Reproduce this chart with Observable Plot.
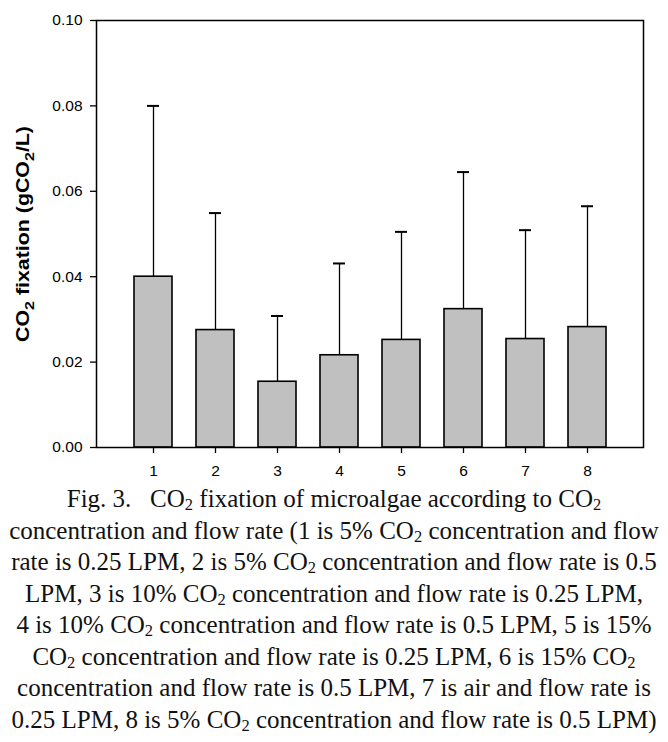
<!DOCTYPE html>
<html>
<head>
<meta charset="utf-8">
<script src="https://cdn.jsdelivr.net/npm/d3@7"></script>
<script src="https://cdn.jsdelivr.net/npm/@observablehq/plot@0.6"></script>
<style>
  body { margin: 0; background: #fff; }
  #caption { font-family: "Liberation Serif", "Times New Roman", serif; font-size: 25px; line-height: 31.5px; color: #111; text-align: center; width: 668px; }
  #caption div { white-space: nowrap; }
  .sub { font-size: 0.66em; vertical-align: -0.18em; line-height: 0; }
</style>
</head>
<body>
<div id="chart"></div>
<div id="caption"></div>
<script>
const categories = ["1", "2", "3", "4", "5", "6", "7", "8"];
const means  = [0.0400, 0.0275, 0.0154, 0.0216, 0.0252, 0.0324, 0.0254, 0.0282];
const errors = [0.0400, 0.0274, 0.0154, 0.0215, 0.0253, 0.0321, 0.0255, 0.0283];
const yTicks = [0, 0.02, 0.04, 0.06, 0.08, 0.10];
const yLabelParts = [["CO", false], ["2", true], [" fixation (gCO", false], ["2", true], ["/L)", false]];
const captionLines = [
  "Fig. 3.&nbsp;&nbsp; CO<span class='sub'>2</span> fixation of microalgae according to CO<span class='sub'>2</span>",
  "concentration and flow rate (1 is 5% CO<span class='sub'>2</span> concentration and flow",
  "rate is 0.25 LPM, 2 is 5% CO<span class='sub'>2</span> concentration and flow rate is 0.5",
  "LPM, 3 is 10% CO<span class='sub'>2</span> concentration and flow rate is 0.25 LPM,",
  "4 is 10% CO<span class='sub'>2</span> concentration and flow rate is 0.5 LPM, 5 is 15%",
  "CO<span class='sub'>2</span> concentration and flow rate is 0.25 LPM, 6 is 15% CO<span class='sub'>2</span>",
  "concentration and flow rate is 0.5 LPM, 7 is air and flow rate is",
  "0.25 LPM, 8 is 5% CO<span class='sub'>2</span> concentration and flow rate is 0.5 LPM)"
];

const data = categories.map((c, i) => ({cat: c, mean: means[i], err: errors[i]}));

const chart = Plot.plot({
  width: 668,
  height: 483,
  marginLeft: 96,
  marginRight: 25,
  marginTop: 20,
  marginBottom: 36,
  style: {fontFamily: "'Liberation Sans', Arial, sans-serif", fontSize: "15.5px", color: "#000", background: "#fff"},
  x: {type: "band", domain: categories, paddingInner: 0.39, paddingOuter: 0.59},
  y: {domain: [0, 0.1]},
  marks: [
    Plot.axisX({tickSize: 6, tickPadding: 11, label: null, stroke: "#000", strokeWidth: 1.3}),
    Plot.axisY({ticks: yTicks, tickFormat: d3.format(".2f"), tickSize: 6, tickPadding: 8, label: null, stroke: "#000", strokeWidth: 1.3}),
    Plot.ruleX(data, {x: "cat", y1: "mean", y2: d => d.mean + d.err, stroke: "#000", strokeWidth: 1.3}),
    Plot.tickY(data, {x: "cat", y: d => d.mean + d.err, stroke: "#000", strokeWidth: 2, insetLeft: 13, insetRight: 13}),
    Plot.barY(data, {x: "cat", y: "mean", fill: "#c0c0c0", stroke: "#000", strokeWidth: 1.6}),
    Plot.frame({stroke: "#000", strokeWidth: 1.5})
  ]
});
document.getElementById("chart").appendChild(chart);

const svg = d3.select(chart);
svg.selectAll('g[aria-label$="tick label"] text').style("font-size", "15.5px").style("fill", "#000");

// rotated y-axis title with subscripts
const t = svg.append("text")
  .attr("transform", "translate(29,234) rotate(-90)")
  .attr("text-anchor", "middle")
  .attr("font-family", "'Liberation Sans', Arial, sans-serif")
  .attr("font-weight", "bold")
  .attr("font-size", 18)
  .attr("fill", "#000")
  .attr("textLength", 216)
  .attr("lengthAdjust", "spacingAndGlyphs");
yLabelParts.forEach(([s, sub], i) => {
  const ts = t.append("tspan").text(s);
  if (sub) ts.attr("font-size", 13.5).attr("dy", 5);
  else if (i > 0) ts.attr("dy", -5);
});

document.getElementById("caption").innerHTML = captionLines.map(l => `<div>${l}</div>`).join("");
</script>
</body>
</html>
